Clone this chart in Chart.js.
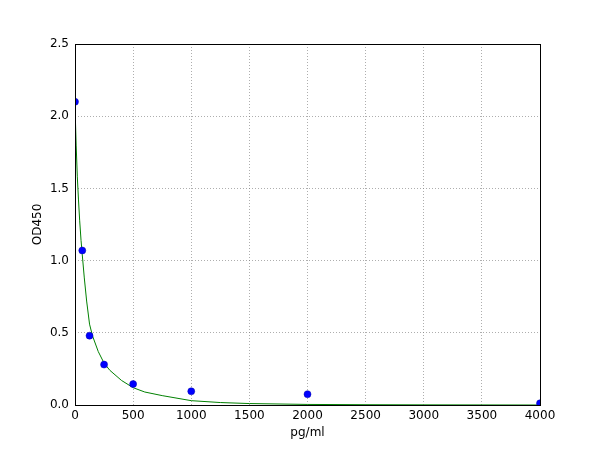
<!DOCTYPE html>
<html>
<head>
<meta charset="utf-8">
<script src="https://cdn.jsdelivr.net/npm/chart.js@4/dist/chart.umd.min.js"></script>
<style>
  html, body { margin: 0; padding: 0; background: #fff; }
  #wrap { width: 600px; height: 450px; }
</style>
</head>
<body>
<div id="wrap"><canvas id="c" width="600" height="450"></canvas></div>
<script>
// Standard points (pg/ml vs OD450)
const stdConc = [0, 62.5, 125, 250, 500, 1000, 2000, 4000];
const stdOD   = [2.10, 1.07, 0.48, 0.28, 0.145, 0.095, 0.075, 0.012];

// Fitted curve
const fitConc = [0, 10, 20, 30, 40, 52, 62.5, 80, 100, 125, 150, 200, 250, 300, 400, 500, 600, 750, 1000, 1250, 1500, 2000, 2500, 3000, 3500, 4000];
const fitOD   = [2.07, 1.80, 1.58, 1.42, 1.28, 1.14, 1.04, 0.88, 0.72, 0.56, 0.48, 0.37, 0.29, 0.24, 0.17, 0.12, 0.09, 0.065, 0.03, 0.017, 0.01, 0.004, 0.002, 0.001, 0.0005, 0.0];

const xTicks = [0, 500, 1000, 1500, 2000, 2500, 3000, 3500, 4000];
const yTicks = [0.0, 0.5, 1.0, 1.5, 2.0, 2.5];

const FONT = { family: 'DejaVu Sans', size: 12 };

const frame = {
  id: 'frame',
  afterDatasetsDraw(chart) {
    const { ctx, chartArea: a } = chart;
    ctx.save();
    ctx.strokeStyle = '#000';
    ctx.lineWidth = 1;
    ctx.strokeRect(Math.round(a.left) + 0.5, Math.round(a.top) + 0.5, Math.round(a.right - a.left), Math.round(a.bottom - a.top));
    ctx.restore();
  }
};

new Chart(document.getElementById('c'), {
  type: 'scatter',
  data: {
    datasets: [
      {
        label: 'fit',
        data: fitConc.map((x, i) => ({ x, y: fitOD[i] })),
        showLine: true,
        borderColor: '#008000',
        borderWidth: 1,
        pointRadius: 0,
        tension: 0,
        clip: 0,
        order: 2
      },
      {
        label: 'std',
        data: stdConc.map((x, i) => ({ x, y: stdOD[i] })),
        showLine: false,
        backgroundColor: '#0000ff',
        borderColor: '#0000aa',
        borderWidth: 0.5,
        pointRadius: 3.5,
        clip: 0,
        order: 1
      }
    ]
  },
  options: {
    responsive: false,
    animation: false,
    devicePixelRatio: 1,
    layout: { padding: { top: 44, right: 60, left: 0, bottom: 0 } },
    plugins: { legend: { display: false }, tooltip: { enabled: false } },
    scales: {
      x: {
        type: 'linear',
        min: 0, max: 4000,
        afterBuildTicks: (s) => { s.ticks = xTicks.map(v => ({ value: v })); },
        afterFit: (s) => { s.height = 45; },
        ticks: { color: '#000', font: FONT, padding: 4, maxRotation: 0, callback: v => String(v) },
        grid: { color: '#777', lineWidth: 0.6, drawTicks: false },
        border: { display: false, dash: [1, 2] },
        title: { display: true, text: 'pg/ml', color: '#000', font: FONT, padding: { top: 0, bottom: 10 } }
      },
      y: {
        type: 'linear',
        min: 0, max: 2.5,
        afterBuildTicks: (s) => { s.ticks = yTicks.map(v => ({ value: v })); },
        afterFit: (s) => { s.width = 75; },
        ticks: { color: '#000', font: FONT, padding: 6, callback: v => Number(v).toFixed(1) },
        grid: { color: '#777', lineWidth: 0.6, drawTicks: false },
        border: { display: false, dash: [1, 2] },
        title: { display: true, text: 'OD450', color: '#000', font: FONT, padding: { top: 31, bottom: 0 } }
      }
    }
  },
  plugins: [frame]
});
</script>
</body>
</html>
